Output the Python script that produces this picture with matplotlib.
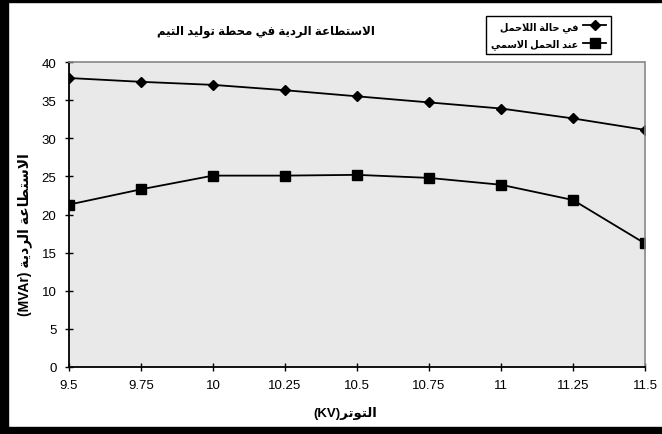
import matplotlib
matplotlib.use("Agg")
import matplotlib.pyplot as plt
from matplotlib.patches import Rectangle

# data
voltage = [9.5, 9.75, 10, 10.25, 10.5, 10.75, 11, 11.25, 11.5]
voltage_labels = ["9.5", "9.75", "10", "10.25", "10.5", "10.75", "11", "11.25", "11.5"]
q_no_load = [37.9, 37.4, 37.0, 36.3, 35.5, 34.7, 33.9, 32.6, 31.1]
q_rated = [21.3, 23.3, 25.1, 25.1, 25.2, 24.8, 23.9, 21.9, 16.2]
y_ticks = [0, 5, 10, 15, 20, 25, 30, 35, 40]

title_ar = "الاستطاعة الردية في محطة توليد التيم"
legend_no_load = "في حالة اللاحمل"
legend_rated = "عند الحمل الاسمي"
ylabel_ar = "الاستطاعة الردية"
xlabel_ar = "التوتر"

# matplotlib does no arabic shaping, so pick presentation forms by hand
# (iso, final, initial, medial)
FORMS = {
    "ا": ("\uFE8D", "\uFE8E", None, None),
    "ة": ("\uFE93", "\uFE94", None, None),
    "ت": ("\uFE95", "\uFE96", "\uFE97", "\uFE98"),
    "ح": ("\uFEA1", "\uFEA2", "\uFEA3", "\uFEA4"),
    "د": ("\uFEA9", "\uFEAA", None, None),
    "ر": ("\uFEAD", "\uFEAE", None, None),
    "س": ("\uFEB1", "\uFEB2", "\uFEB3", "\uFEB4"),
    "ط": ("\uFEC1", "\uFEC2", "\uFEC3", "\uFEC4"),
    "ع": ("\uFEC9", "\uFECA", "\uFECB", "\uFECC"),
    "ف": ("\uFED1", "\uFED2", "\uFED3", "\uFED4"),
    "ل": ("\uFEDD", "\uFEDE", "\uFEDF", "\uFEE0"),
    "م": ("\uFEE1", "\uFEE2", "\uFEE3", "\uFEE4"),
    "ن": ("\uFEE5", "\uFEE6", "\uFEE7", "\uFEE8"),
    "و": ("\uFEED", "\uFEEE", None, None),
    "ي": ("\uFEF1", "\uFEF2", "\uFEF3", "\uFEF4"),
    "LA": ("\uFEFB", "\uFEFC", None, None),
}
DUAL = {u for u, f in FORMS.items() if f[2] is not None}


def ar(text):
    units = []
    i = 0
    while i < len(text):
        if text[i] == "ل" and i + 1 < len(text) and text[i + 1] == "ا":
            units.append("LA")
            i += 2
        else:
            units.append(text[i])
            i += 1
    out = []
    for k, u in enumerate(units):
        if u not in FORMS:
            out.append(u)
            continue
        prev = units[k - 1] if k > 0 else None
        nxt = units[k + 1] if k + 1 < len(units) else None
        jp = prev in DUAL
        jn = u in DUAL and nxt in FORMS
        iso, fin, ini, med = FORMS[u]
        if jp and jn:
            out.append(med)
        elif jp:
            out.append(fin)
        elif jn:
            out.append(ini)
        else:
            out.append(iso)
    return "".join(out)[::-1]


plt.rcParams["font.family"] = ["Liberation Sans", "DejaVu Sans"]

fig = plt.figure(figsize=(6.62, 4.35), dpi=100)
W, H = 662, 435
ax = fig.add_axes([69 / W, 1 - 368 / H, (645 - 69) / W, (368 - 63) / H])
ax.set_facecolor("#e9e9e9")

# 1) the two curves
ax.plot(voltage, q_no_load, color="black", lw=1.3, marker="D", ms=5.5,
        label=ar(legend_no_load))
ax.plot(voltage, q_rated, color="black", lw=1.3, marker="s", ms=6.5,
        label=ar(legend_rated))

# 2) axes
ax.set_xlim(voltage[0], voltage[-1])
ax.set_ylim(0, 40)
ax.set_xticks(voltage)
ax.set_xticklabels(voltage_labels)
ax.set_yticks(y_ticks)
ax.tick_params(direction="inout", length=6, width=1, labelsize=9.5, pad=6)
for s in ["left", "bottom"]:
    ax.spines[s].set_color("black")
    ax.spines[s].set_linewidth(1.3)
for s in ["top", "right"]:
    ax.spines[s].set_color("#888888")
    ax.spines[s].set_linestyle((0, (1, 1)))
    ax.spines[s].set_linewidth(1.2)

# 3) texts
fig.text(266 / W, 1 - 32 / H, ar(title_ar), ha="center", va="center",
         fontsize=8.5, fontweight="bold")
fig.text(25 / W, 1 - 235 / H, "(MVAr) " + ar(ylabel_ar), rotation=90,
         ha="center", va="center", fontsize=10, fontweight="bold")
fig.text(345 / W, 1 - 414 / H, "(KV)" + ar(xlabel_ar), ha="center",
         va="center", fontsize=9.5, fontweight="bold")

leg = fig.legend(loc="upper right", bbox_to_anchor=(616 / W, 1 - 12 / H),
                 markerfirst=False, fancybox=False, edgecolor="black",
                 framealpha=1, handlelength=2.4, handletextpad=0.5,
                 borderpad=0.5, labelspacing=0.7,
                 prop={"weight": "bold", "size": 7})
leg.get_frame().set_linewidth(1.0)

# 4) black frame around the picture
for x0, y0, w, h in [(0, 0, 8, H), (0, 0, W, 7), (0, H - 3, W, 3)]:
    fig.patches.append(Rectangle((x0 / W, y0 / H), w / W, h / H,
                                 transform=fig.transFigure, color="black"))

fig.savefig("out.png", dpi=100)
